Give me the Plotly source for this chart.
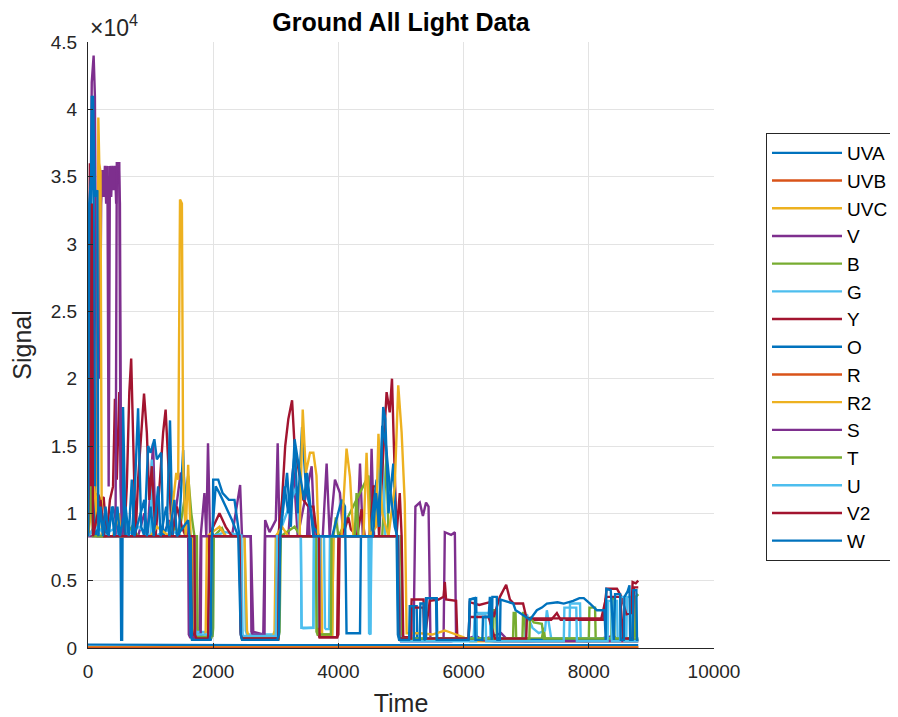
import plotly.graph_objects as go

# ---------------- data (time, signal) per channel ----------------
UVA_t = [0, 4000, 8790]
UVA_v = [250, 200, 200]

UVB_t = [0, 8790]
UVB_v = [30, 30]

UVC_t = [0, 8790]
UVC_v = [60, 60]

V_t = [0, 30, 60, 90, 110, 130, 150, 170, 190, 210, 230, 250, 270, 290, 310, 330, 350, 370, 390, 410, 430, 450, 470, 490, 510, 530, 560,
       800, 900, 950, 1040, 1080, 1200, 1300, 1350, 1480, 1530, 1580, 1700, 1720, 1780, 1800, 1860, 1890, 1917, 1950, 2300, 2430, 2460,
       2600, 2640, 2800, 2830, 2900, 3000, 3030, 3060, 3200, 3280, 3350, 3573, 3620, 3750, 3812, 3860, 3945, 4025, 4080, 4300, 4345, 4390,
       4500, 4530, 4570, 4950, 5000, 5200, 5230, 5300, 5350, 5400, 5440, 5470, 5680, 5700, 5800, 5860, 5880, 6000, 6200, 6300, 6600, 6700,
       7000, 7500, 8000, 8400, 8450, 8790]
V_v = [11000, 30000, 42000, 44000, 41000, 25000, 12000, 34000, 20000, 33000, 35500, 33500, 35800, 33000, 35800, 12000, 35800, 33500, 35800, 34000, 35800, 33000, 35800, 35800, 33000, 9000, 8300,
       8300, 10000, 8300, 15200, 8300, 8300, 9500, 8300, 13000, 12800, 8300, 8300, 1000, 700, 8300, 11500, 8300, 15200, 8300, 8300, 12100, 8300,
       8300, 1200, 1000, 9500, 8600, 9500, 15200, 8300, 8300, 13500, 8300, 13500, 8300, 8300, 13700, 8300, 12500, 11500, 8300, 8300, 13700, 8300,
       8300, 14800, 8300, 8300, 700, 700, 10500, 10800, 9800, 10800, 10500, 700, 700, 8600, 8400, 8600, 700, 600, 900, 600, 1100, 600,
       500, 600, 500, 900, 600, 600]

B_t = [0, 70, 100, 150, 600, 700, 800, 1300, 1400, 1450, 1600, 1650, 1700, 1740, 1750, 1770, 1990, 2000, 2010, 2140, 2200, 2440, 2450, 2470,
       3040, 3060, 3080, 3300, 3400, 3640, 3650, 3670, 3900, 3920, 3960, 4000, 4480, 4520, 4700, 4770, 4800, 5000, 5020, 5050, 6470, 6480,
       6520, 6530, 6790, 6800, 6830, 6840, 6940, 6950, 6980, 6990, 7250, 7280, 7300, 8000, 8010, 8100, 8110, 8360, 8370, 8400, 8410, 8740,
       8750, 8790]
B_v = [8300, 13500, 9000, 8300, 8300, 9000, 8300, 8300, 9000, 8300, 12800, 10000, 8300, 8300, 1500, 900, 900, 1500, 8300, 8900, 8300, 8300, 1200, 700,
       700, 1200, 8300, 9000, 8300, 8300, 1200, 1000, 1000, 8300, 9700, 8300, 12800, 8300, 8300, 14500, 8300, 8300, 1000, 700, 700, 2800,
       2800, 700, 700, 2600, 2600, 700, 700, 2600, 2600, 700, 700, 1500, 700, 700, 3000, 3000, 700, 700, 3700, 3700, 700, 700,
       3800, 4000]

G_t = [0, 100, 200, 400, 520, 560, 600, 800, 1000, 1020, 1060, 1300, 1500, 1690, 1700, 1720, 1940, 1960, 1980, 2200, 2500, 2520, 2540,
       3000, 3020, 3040, 3330, 3380, 3400, 3413, 3440, 3580, 3600, 3610, 3770, 3786, 3800, 3850, 3865, 4480, 4490, 4510, 4520, 4700, 4750,
       4960, 4980, 5000, 6160, 6180, 6420, 6430, 6990, 7010, 7100, 7200, 7300, 7330, 7400, 7690, 7700, 7860, 7870, 8400, 8410, 8450, 8460,
       8600, 8610, 8680, 8690, 8790]
G_v = [8300, 9000, 8300, 8800, 8300, 13000, 8300, 9000, 8300, 14000, 8300, 8800, 8300, 8300, 1500, 1200, 1200, 1500, 8300, 8600, 8300, 1300, 1000,
       1000, 1300, 8300, 12000, 8300, 8300, 1500, 1460, 1460, 1500, 8300, 8300, 1500, 1400, 1400, 8300, 8300, 1100, 1000, 8300, 15000, 8300,
       8300, 1000, 700, 700, 2600, 2600, 700, 700, 2500, 1500, 1100, 1300, 2800, 700, 700, 3300, 3300, 700, 700, 3500, 3500, 700,
       700, 3800, 3800, 700, 700]

Y_t = [0, 30, 50, 80, 110, 150, 200, 250, 300, 350, 400, 430, 460, 500, 540, 580, 620, 660, 690, 720, 760, 800, 850, 895, 940, 980, 1020,
       1080, 1150, 1200, 1240, 1280, 1340, 1420, 1500, 1560, 1660, 1680, 1700, 1900, 1920, 1940, 2000, 2100, 2200, 2300, 2420, 2440, 2460,
       3000, 3020, 3040, 3100, 3150, 3200, 3260, 3300, 3390, 3440, 3520, 3600, 3660, 3680, 3700, 3980, 4000, 4020, 4100, 4160, 4200, 4300,
       4370, 4420, 4500, 4560, 4610, 4650, 4700, 4770, 4820, 4856, 4880, 4930, 4980, 5010, 5036, 5150, 5170, 5360, 5380, 5460, 5600, 5680,
       5700, 5720, 5880, 5900, 6080, 6100, 6250, 6420, 6480, 6580, 6680, 6740, 6800, 6950, 7000, 7060, 7400, 7490, 7550, 8230, 8285, 8450,
       8520, 8600, 8680, 8700, 8750, 8790]
Y_v = [8300, 36000, 10000, 28000, 8300, 11500, 11000, 11200, 8300, 11000, 12000, 18500, 12500, 19000, 11000, 8300, 12000, 19000, 21500, 16000, 8300, 12500, 15500, 18900, 16000, 11000, 13500,
       8300, 12500, 16000, 17700, 14000, 8300, 10500, 9000, 8300, 8300, 1000, 700, 700, 1000, 8300, 9000, 10000, 9000, 8300, 8300, 1200, 700,
       700, 1000, 8300, 11000, 15000, 17000, 18400, 15000, 12500, 11000, 10500, 10500, 8300, 1000, 800, 800, 1000, 8300, 8800, 9700, 8800, 8300,
       10300, 8300, 8300, 12000, 12000, 8300, 13000, 19000, 17500, 20000, 16000, 8500, 11500, 8300, 800, 800, 3600, 3600, 800, 3500, 3600, 3800,
       4900, 3600, 3500, 700, 700, 3400, 3200, 3400, 2300, 3800, 4700, 3600, 3300, 3300, 2300, 2100, 2100, 2600, 2100, 2100, 4400, 4400,
       3800, 2500, 2600, 4900, 4800, 5000]

O_t = [0, 40, 60, 90, 120, 200, 300, 400, 500, 520, 530, 545, 555, 560, 600, 700, 750, 800, 850, 900, 960, 1000, 1060, 1100, 1170, 1200,
       1260, 1310, 1350, 1450, 1520, 1560, 1640, 1660, 1680, 1960, 1980, 2000, 2080, 2150, 2250, 2340, 2420, 2460, 2480, 3040, 3070, 3140,
       3200, 3307, 3350, 3420, 3480, 3600, 3700, 3900, 4052, 4105, 4130, 4345, 4360, 4500, 4610, 4650, 4716, 4750, 4800, 4877, 4930, 4950,
       4970, 5150, 5160, 5250, 5260, 5390, 5400, 5570, 5580, 6080, 6100, 6200, 6210, 8790]
O_v = [8300, 33500, 41000, 33000, 8300, 10500, 8300, 10500, 8300, 8300, 600, 600, 8300, 17900, 8300, 8300, 12000, 17800, 9000, 8300, 15000, 14500, 15500, 14000, 14500, 8300,
       9000, 16900, 8300, 8300, 14700, 8300, 8300, 1000, 600, 600, 1000, 12500, 12500, 11500, 11000, 11000, 8300, 1000, 600, 600, 8300, 12000,
       10000, 14700, 10000, 16400, 12000, 9000, 8300, 8300, 11000, 10500, 1100, 1100, 8300, 8300, 12500, 9000, 17900, 17000, 10000, 13700, 8300, 1000,
       600, 600, 3100, 3100, 600, 600, 3700, 3700, 600, 600, 3600, 3700, 600, 600]

R_t = [0, 8790]
R_v = [20, 20]

R2_t = [0, 100, 150, 165, 180, 200, 220, 400, 500, 550, 1000, 1100, 1300, 1410, 1440, 1470, 1500, 1520, 1560, 1600, 1640, 1680, 1700, 1720,
        1860, 1880, 1900, 2100, 2200, 2500, 2540, 2560, 2960, 2980, 3000, 3100, 3200, 3380, 3430, 3480, 3546, 3600, 3650, 3680, 3720, 3740,
        3900, 3920, 4050, 4130, 4185, 4240, 4400, 4450, 4500, 4600, 4640, 4700, 4800, 4900, 4956, 5010, 5060, 5090, 5300, 5500, 5700, 5900,
        6000, 6100, 8790]
R2_v = [8300, 12000, 9000, 39400, 36000, 35300, 8300, 8300, 10000, 8300, 8300, 9000, 8300, 13000, 12500, 33300, 33000, 13700, 8300, 13600, 8300, 8300, 1500, 800,
        800, 1200, 8300, 9000, 8300, 8300, 1300, 900, 900, 1300, 8300, 9000, 8300, 8300, 17700, 13000, 14500, 14500, 12800, 8300, 8300, 1000,
        900, 8300, 8300, 14800, 12700, 8300, 8300, 14500, 8300, 9000, 15900, 10000, 8300, 12000, 19500, 16000, 10800, 1100, 1100, 1000, 1300, 1000,
        800, 500, 500]

S_t = [0, 440, 460, 500, 520, 550, 1600, 1610, 1630, 1800, 1810, 2600, 2610, 2630, 2820, 2830, 3500, 3520, 3540, 4950, 4980, 5000, 5800,
       6000, 6500, 7500, 8790]
S_v = [8300, 8300, 36000, 36000, 12000, 8300, 8300, 1000, 800, 800, 8300, 8300, 1200, 1000, 1000, 8300, 8300, 10500, 8300, 8300, 800, 500, 500,
       700, 500, 500, 500]

T_t = [0, 50, 80, 1700, 1710, 1730, 1970, 1990, 2440, 2460, 3040, 3060, 3660, 3670, 3880, 3890, 4260, 4290, 4320, 4950, 4970, 5000, 7050,
       7060, 7120, 7250, 7280, 8790]
T_v = [8300, 12000, 8300, 8300, 1200, 800, 800, 8300, 8300, 700, 700, 8300, 8300, 1000, 1000, 8300, 8300, 11500, 8300, 8300, 900, 700, 700,
       2300, 1900, 1800, 700, 700]

U_t = [0, 150, 300, 1700, 1710, 1730, 1950, 1960, 2450, 2470, 3000, 3020, 3400, 3410, 3600, 3610, 3680, 3690, 3710, 4500, 4510, 4530, 4950,
       4970, 5000, 6200, 6210, 6350, 6360, 7600, 7610, 7800, 7810, 8300, 8310, 8360, 8370, 8500, 8510, 8560, 8570, 8790]
U_v = [8300, 9000, 8300, 8300, 1300, 1000, 1000, 8300, 8300, 900, 900, 8300, 8300, 1500, 1500, 8300, 8300, 1500, 8300, 8300, 1000, 8300, 8300,
       800, 500, 500, 2500, 2500, 500, 500, 3000, 3000, 500, 500, 3500, 3500, 500, 500, 3800, 3800, 500, 500]

V2_t = [0, 60, 80, 200, 260, 1700, 1710, 1730, 1920, 1940, 2420, 2440, 2460, 3040, 3060, 3690, 3700, 3980, 4000, 4950, 4970, 5000, 5160,
        5170, 5360, 5370, 6080, 6100, 6400, 6500, 7000, 7010, 8200, 8280, 8500, 8550, 8700, 8720, 8790]
V2_v = [8300, 33000, 8300, 11000, 8300, 8300, 1000, 700, 700, 8300, 8300, 1000, 700, 700, 8300, 8300, 800, 800, 8300, 8300, 800, 700, 700,
        3000, 3000, 700, 700, 2300, 2300, 700, 700, 2200, 2200, 3800, 3800, 700, 700, 4500, 4500]

W_t = [0, 20, 50, 80, 110, 150, 165, 200, 240, 280, 330, 380, 420, 470, 510, 600, 650, 700, 740, 900, 940, 1000, 1050, 1120, 1160, 1250,
       1300, 1380, 1420, 1600, 1620, 1640, 1660, 1940, 1960, 1980, 2040, 2100, 2200, 2300, 2400, 2440, 2460, 3020, 3050, 3070, 3180, 3240,
       3300, 3450, 3500, 3600, 4550, 4600, 4650, 4700, 4760, 4820, 4900, 4940, 4960, 4980, 5130, 5140, 5200, 5210, 5300, 5310, 5360, 5370,
       5400, 5410, 5560, 5570, 6080, 6100, 6180, 6190, 6300, 6310, 6400, 6420, 6450, 6460, 6530, 6540, 6580, 6590, 6794, 6830, 6900, 7000,
       7060, 7170, 7250, 7330, 7500, 7600, 7750, 7850, 7920, 8020, 8130, 8250, 8270, 8280, 8350, 8400, 8420, 8500, 8510, 8560, 8570, 8620,
       8650, 8660, 8700, 8710, 8760, 8770, 8790]
W_v = [8300, 33000, 35000, 41000, 33500, 34000, 8300, 10500, 8300, 10500, 8300, 10500, 8300, 10500, 8300, 10500, 8300, 12500, 8300, 11000, 8300, 10500, 8300, 12000, 8300, 10500,
       8300, 11000, 8300, 9500, 8300, 1000, 600, 600, 1000, 8300, 12000, 11500, 10500, 9500, 8300, 1000, 600, 600, 1000, 8300, 13000, 9000,
       15500, 11000, 13000, 8300, 8300, 11500, 9000, 16500, 15000, 12000, 9000, 8300, 1000, 600, 600, 3100, 3100, 600, 600, 3300, 3300, 600,
       700, 3700, 3700, 600, 600, 3600, 3700, 600, 600, 2300, 2300, 3800, 600, 3800, 3800, 600, 600, 3600, 3300, 2800, 2600, 2300,
       2100, 2800, 3000, 3300, 3400, 3300, 3500, 3700, 3700, 3300, 2800, 2800, 600, 4400, 4300, 600, 4000, 4000, 600, 600, 3800, 4200,
       4650, 600, 600, 4300, 4300, 600, 600]

names = ["UVA", "UVB", "UVC", "V", "B", "G", "Y", "O", "R", "R2", "S", "T", "U", "V2", "W"]
series = [(UVA_t, UVA_v), (UVB_t, UVB_v), (UVC_t, UVC_v), (V_t, V_v), (B_t, B_v), (G_t, G_v), (Y_t, Y_v),
          (O_t, O_v), (R_t, R_v), (R2_t, R2_v), (S_t, S_v), (T_t, T_v), (U_t, U_v), (V2_t, V2_v), (W_t, W_v)]

colors = ["#0072BD", "#D95319", "#EDB120", "#7E2F8E", "#77AC30", "#4DBEEE", "#A2142F"]

y_ticks = [0, 5000, 10000, 15000, 20000, 25000, 30000, 35000, 40000, 45000]
y_ticktext = ["0", "0.5", "1", "1.5", "2", "2.5", "3", "3.5", "4", "4.5"]
x_ticks = [0, 2000, 4000, 6000, 8000, 10000]

fig = go.Figure()
for i, (name, (t, v)) in enumerate(zip(names, series)):
    fig.add_trace(go.Scatter(x=t, y=v, mode="lines", name=name, legendgroup=name,
                             line=dict(color=colors[i % 7], width=2.4)))

font_fam = "Liberation Sans, Arial, sans-serif"
axis_common = dict(showgrid=True, gridcolor="#e3e3e3", gridwidth=1, zeroline=False, automargin=False,
                   showline=True, linecolor="#262626", linewidth=1,
                   ticks="inside", ticklen=5, tickcolor="#262626",
                   tickfont=dict(family=font_fam, size=19, color="#262626"))

# the page body adds an 8px offset, so the figure is drawn 8px smaller
W, H = 890, 709
L, T = 80, 34
PW, PH = 626, 606

fig.update_layout(
    width=W, height=H,
    margin=dict(l=L, r=W - L - PW, t=T, b=H - T - PH),
    paper_bgcolor="white", plot_bgcolor="white",
    title=dict(text="<b>Ground All Light Data</b>", x=(401 - 8) / W, xanchor="center", y=1 - 14 / H, yanchor="middle",
               font=dict(family=font_fam, size=25, color="black")),
    xaxis=dict(range=[0, 10000], tickvals=x_ticks, ticktext=[str(x) for x in x_ticks], ticklabelstandoff=6,
               title=dict(text="Time", font=dict(family=font_fam, size=25, color="#262626"), standoff=14),
               **axis_common),
    yaxis=dict(range=[0, 45000], tickvals=y_ticks, ticktext=y_ticktext, ticklabelstandoff=6,
               title=dict(text="Signal", font=dict(family=font_fam, size=25, color="#262626"), standoff=12),
               **axis_common),
    legend=dict(xref="container", yref="container",
                x=(766 - 8) / W, xanchor="left", y=1 - (133 - 8) / H, yanchor="top",
                bordercolor="#262626", borderwidth=1, bgcolor="white",
                font=dict(family=font_fam, size=19, color="black"),
                tracegroupgap=0, itemwidth=70, traceorder="grouped", maxheight=600),
    showlegend=True,
)

fig.add_annotation(text="×10<sup>4</sup>", xref="paper", yref="paper", x=0, y=1, xanchor="left", yanchor="bottom",
                   yshift=-1, showarrow=False, font=dict(family=font_fam, size=23, color="#262626"))

fig.write_html("out.html")
